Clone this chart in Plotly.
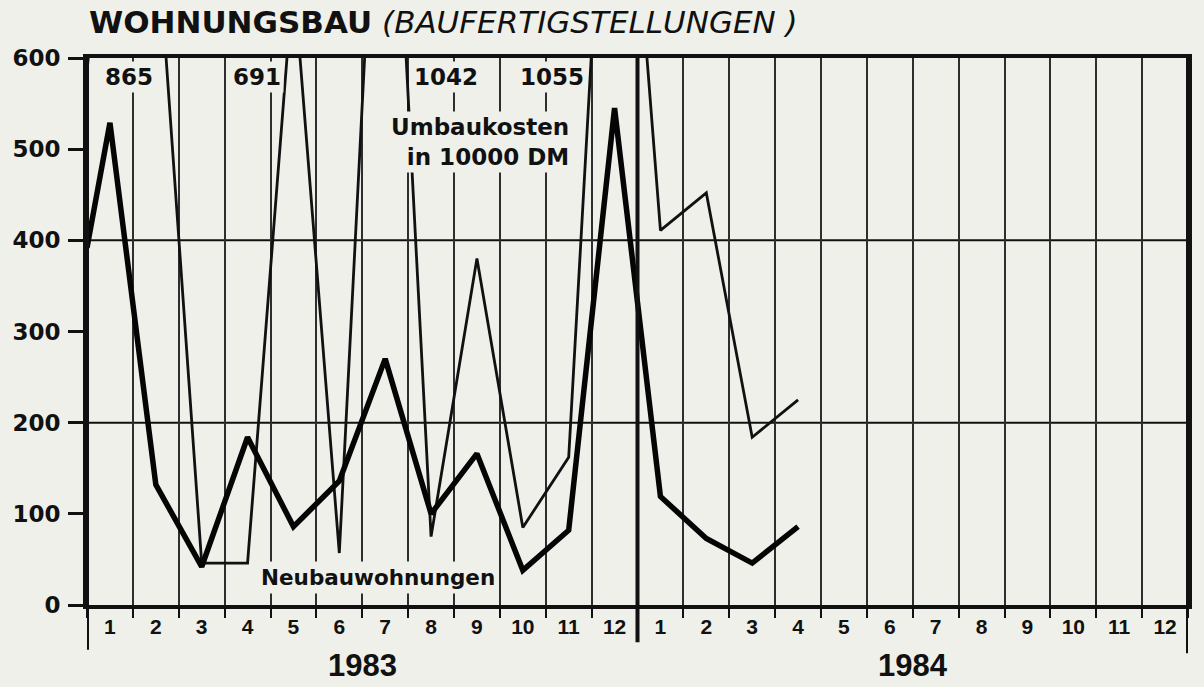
import plotly.graph_objects as go

# ---------------- data ----------------
MONTH_LABELS = [str(m) for m in range(1, 13)] * 2          # Jan 1983 .. Dec 1984
YEARS = ["1983", "1984"]
START_POS = 0.5                                          # start of Jan 1983 (left axis)
DATA_MONTHS = list(range(1, 17))                          # 1/1983 .. 4/1984

NEUBAU_START = 392
NEUBAU = [529, 132, 42, 184, 86, 136, 270, 100, 166, 38, 82, 545,
          119, 73, 46, 86]                                 # Neubauwohnungen
UMBAU_START = 585
UMBAU = [865, 760, 46, 46, 691, 57, 1042, 75, 380, 85, 162, 1055,
         411, 452, 184, 225]                               # Umbaukosten in 10000 DM

Y_TICKS = [0, 100, 200, 300, 400, 500, 600]
Y_GRID = [200, 400]
OFFSCALE_IDX = [0, 4, 6, 11]                               # values drawn above 600, labelled

BG = "#EEF0E9"
INK = "#111111"

x_all = [START_POS] + DATA_MONTHS
n_months = len(MONTH_LABELS)
month_centres = list(range(1, n_months + 1))
month_bounds = [i + 0.5 for i in range(n_months + 1)]

fig = go.Figure()
fig.add_trace(go.Scatter(
    x=x_all, y=[UMBAU_START] + UMBAU, mode="lines",
    line=dict(color=INK, width=2.8), name="Umbaukosten in 10000 DM",
    showlegend=False))
fig.add_trace(go.Scatter(
    x=x_all, y=[NEUBAU_START] + NEUBAU, mode="lines",
    line=dict(color="#050505", width=5.5), name="Neubauwohnungen",
    showlegend=False))

# horizontal grid lines (every 200)
shapes = []
for g in Y_GRID:
    shapes.append(dict(type="line", xref="paper", yref="y", x0=0, x1=1, y0=g, y1=g,
                       line=dict(color=INK, width=2), layer="below"))
# frame lines extending below the axis (left, year divider, right)
for xb, ybot, w in [(month_bounds[0], -0.082, 4), (month_bounds[12], -0.068, 4),
                    (month_bounds[-1], -0.088, 4)]:
    shapes.append(dict(type="line", xref="x", yref="paper", x0=xb, x1=xb, y0=ybot, y1=1,
                       line=dict(color=INK, width=w), layer="above"))

annotations = []
# values above the top of the scale
label_x = [1.41, 4.21, 8.33, 10.63]
for i, lx in zip(OFFSCALE_IDX, label_x):
    annotations.append(dict(
        x=lx, y=579, xref="x", yref="y", text=str(UMBAU[i]), showarrow=False,
        font=dict(family="DejaVu Sans", size=23, color=INK, weight="bold"),
        bgcolor=BG, borderpad=2))
annotations.append(dict(
    x=11.08, y=508, xref="x", yref="y", xanchor="right", align="right",
    text="Umbaukosten<br>in 10000 DM", showarrow=False,
    font=dict(family="DejaVu Sans", size=23, color=INK, weight="bold"),
    bgcolor=BG, borderpad=2))
annotations.append(dict(
    x=6.85, y=30, xref="x", yref="y", text="Neubauwohnungen", showarrow=False,
    font=dict(family="DejaVu Sans", size=21.5, color=INK, weight="bold"),
    bgcolor=BG, borderpad=3))
# years
for k, yr in enumerate(YEARS):
    annotations.append(dict(
        x=6.5 + 12 * k, y=-0.11, xref="x", yref="paper", text=yr, showarrow=False,
        yanchor="middle",
        font=dict(family="Liberation Sans", size=31, color=INK, weight="bold")))
# title
annotations.append(dict(
    x=0, y=1.066, xref="paper", yref="paper", xanchor="left", yanchor="middle",
    text="<b>WOHNUNGSBAU</b> <i>(BAUFERTIGSTELLUNGEN )</i>", showarrow=False,
    font=dict(family="DejaVu Sans", size=31, color=INK)))

fig.update_layout(
    width=1204, height=687,
    margin=dict(l=85, r=12, t=58, b=82, pad=0),
    paper_bgcolor=BG, plot_bgcolor=BG,
    shapes=shapes, annotations=annotations,
    xaxis=dict(
        range=[month_bounds[0], month_bounds[-1]],
        tickmode="array", tickvals=month_centres, ticktext=MONTH_LABELS,
        ticks="", showgrid=False, zeroline=False,
        showline=True, linewidth=4, linecolor=INK, mirror=True,
        tickfont=dict(family="Liberation Sans", size=21, color=INK, weight="bold"),
        ticklabelstandoff=0,
        minor=dict(tickmode="array", tickvals=month_bounds, ticks="outside",
                   ticklen=9, tickwidth=2, tickcolor=INK,
                   showgrid=True, gridcolor="#2e2e2e", gridwidth=2),
    ),
    yaxis=dict(
        range=[0, 600], tickmode="array", tickvals=Y_TICKS,
        ticks="outside", ticklen=15, tickwidth=2.5, tickcolor=INK,
        showgrid=False, zeroline=False,
        showline=True, linewidth=4, linecolor=INK, mirror=True,
        tickfont=dict(family="DejaVu Sans", size=23, color=INK, weight="bold"),
        ticklabelstandoff=3,
    ),
)

fig.write_html("out.html", config={"displayModeBar": False},
               post_script="document.body.style.margin='0';")
